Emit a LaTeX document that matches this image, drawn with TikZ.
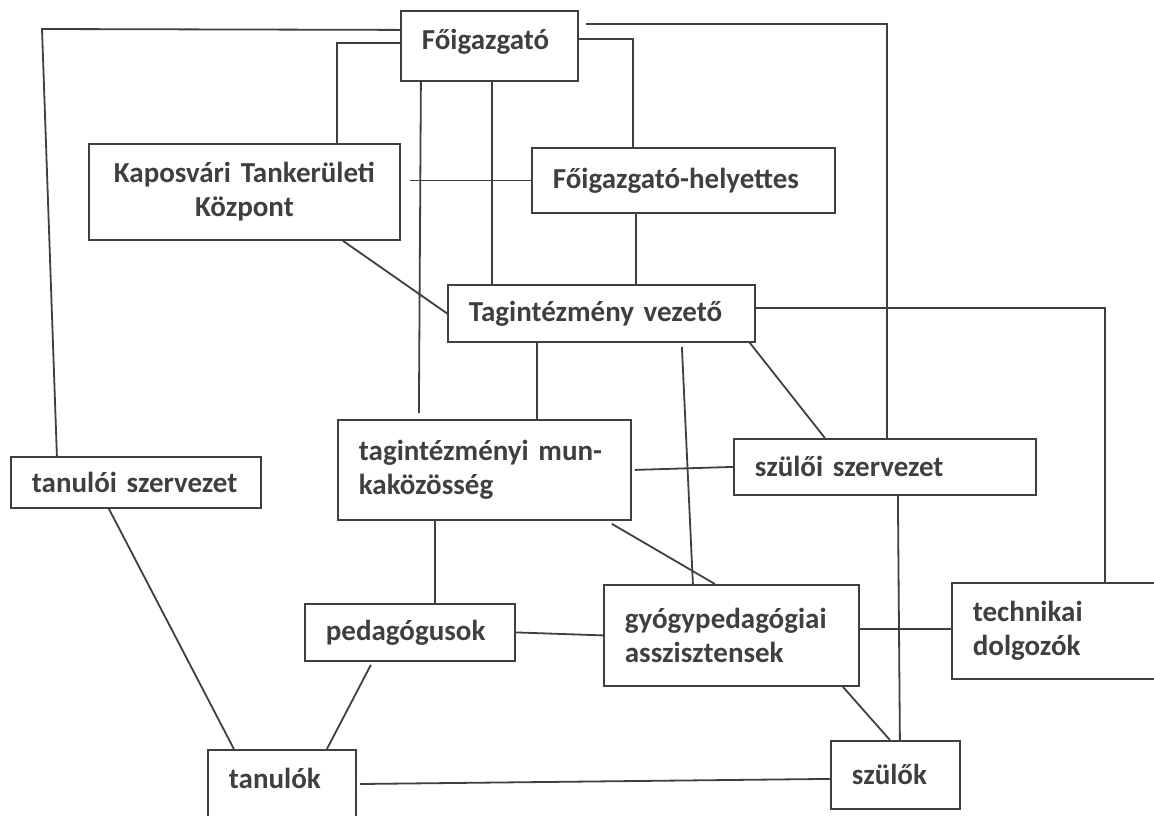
\documentclass[tikz,border=0pt]{standalone}
\usepackage{fontspec}
\setmainfont{Carlito}
\definecolor{ink}{HTML}{3F3F3F}
\tikzset{
  box/.style={draw=ink, text=ink, line width=1.8pt, rectangle, anchor=north west,
    inner xsep=21pt, align=left, font=\bfseries\fontsize{29}{34}\selectfont},
  link/.style={draw=ink, line width=1.8pt}
}
\begin{document}
\begin{tikzpicture}[x=1pt,y=-1pt]
    \useasboundingbox (0,0) rectangle (1154,815);
    % boxes
    \node[box, text width=135pt, inner ysep=0pt, text height=39pt, text depth=31pt] (fo) at (400,10) {Főigazgató};
    \node[box, text width=269pt, minimum height=96pt, align=center] (ktk) at (88,143) {Kaposvári Tankerületi\\Központ};
    \node[box, text width=261pt, minimum height=65pt] (fh) at (531,147) {Főigazgató-helyettes};
    \node[box, text width=265pt, minimum height=57pt] (tv) at (447,284) {Tagintézmény vezető};
    \node[box, text width=251pt, minimum height=100pt] (tm) at (337,419) {tagintézményi mun-\\kaközösség};
    \node[box, text width=260pt, minimum height=56pt] (szsz) at (733,438) {szülői szervezet};
    \node[box, text width=208pt, minimum height=51pt] (tsz) at (10,456) {tanulói szervezet};
    \node[box, text width=168pt, minimum height=57pt] (ped) at (304,603) {pedagógusok};
    \node[box, text width=213pt, minimum height=101pt] (gyp) at (603,584) {gyógypedagógiai\\asszisztensek};
    \node[box, text width=198pt, minimum height=96pt] (td) at (951,582) {technikai\\dolgozók};
    \node[box, text width=106pt, inner ysep=10pt, text height=29pt, text depth=50pt] (tan) at (207,749) {tanulók};
    \node[box, text width=87pt, minimum height=68pt] (szul) at (830,740) {szülők};
    % from Főigazgató
    \draw[link] ([yshift=16pt]fo.west) -- (42,29) -- ([xshift=-79pt]tsz.north);
    \draw[link] ([yshift=3pt]fo.west) -| ([xshift=92.5pt]ktk.north);
    \draw[link] ([xshift=7pt,yshift=22pt]fo.east) -| ([xshift=2pt]szsz.north);
    \draw[link] ([yshift=7pt]fo.east) -| ([xshift=-50.5pt]fh.north);
    \draw[link] ([xshift=-68.5pt]fo.south) -- ([xshift=-65.5pt,yshift=6pt]tm.north);
    \draw[link] ([xshift=2.5pt]fo.south) -- ([xshift=-109.5pt]tv.north);
    % middle
    \draw[link] ([xshift=9pt,yshift=11.5pt]ktk.east) -- (fh.west);
    \draw[link] ([xshift=98.5pt]ktk.south) -- (tv.west);
    \draw[link] ([xshift=-47.5pt]fh.south) -- ([xshift=34.5pt]tv.north);
    \draw[link] ([xshift=-64.5pt]tv.south) -- ([xshift=52.5pt]tm.north);
    \draw[link] ([yshift=5.5pt]tv.east) -| ([xshift=33pt]td.north);
    \draw[link] ([xshift=-6pt]tv.south east) -- ([xshift=-60pt]szsz.north);
    \draw[link] ([xshift=80.5pt,yshift=-4pt]tv.south) -- ([xshift=-38.5pt]gyp.north);
    \draw[link] ([xshift=3pt]tm.east) -- (szsz.west);
    \draw[link] ([xshift=-20pt,yshift=-3pt]tm.south east) -- ([xshift=-16.5pt]gyp.north);
    \draw[link] ([xshift=-49.5pt]tm.south) -- ([xshift=25pt]ped.north);
    % bottom
    \draw[link] ([xshift=-27pt]tsz.south) -- ([xshift=-48pt]tan.north);
    \draw[link] (ped.east) -- (gyp.west);
    \draw[link] ([xshift=-39pt,yshift=-3pt]ped.south) -- ([xshift=45pt]tan.north);
    \draw[link] ([yshift=6.5pt]gyp.east) -- ([yshift=2pt]td.west);
    \draw[link] ([xshift=13pt]szsz.south) -- ([xshift=4.5pt]szul.north);
    \draw[link] ([xshift=111.5pt]gyp.south) -- ([xshift=-5.5pt]szul.north);
    \draw[link] ([xshift=3pt,yshift=-35pt]tan.north east) -- ([yshift=-4pt]szul.west);
\end{tikzpicture}
\end{document}
